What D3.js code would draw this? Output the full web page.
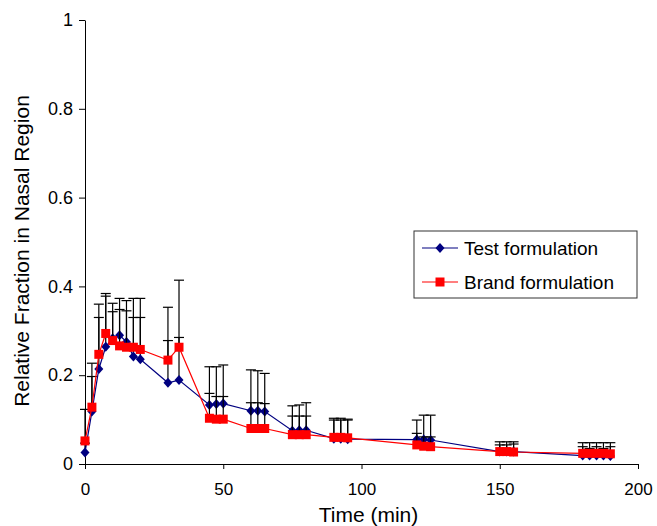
<!DOCTYPE html>
<html>
<head>
<meta charset="utf-8">
<script src="https://cdn.jsdelivr.net/npm/d3@7"></script>
<style>
  body { margin: 0; background: #fff; }
  svg text { font-family: "Liberation Sans", Arial, sans-serif; fill: #000; }
</style>
</head>
<body>
<div id="grafico"></div>
<script>
// ==============================
// DATOS
// ==============================

const tiempos = [0, 2.5, 5, 7.5, 10, 12.5, 15, 17.5, 20, 30, 34,
  45, 47.5, 50, 60, 62.5, 65, 75, 77.5, 80, 90, 92.5, 95,
  120, 122.5, 125, 150, 152.5, 155, 180, 182.5, 185, 187.5, 190];

const prueba = [0.026, 0.118, 0.214, 0.264, 0.283, 0.290, 0.275, 0.242, 0.236, 0.183, 0.189,
  0.133, 0.135, 0.136, 0.120, 0.120, 0.118, 0.075, 0.076, 0.076, 0.057, 0.057, 0.056,
  0.055, 0.055, 0.054, 0.028, 0.028, 0.028, 0.019, 0.019, 0.019, 0.019, 0.018];

const marca = [0.052, 0.128, 0.247, 0.294, 0.278, 0.266, 0.263, 0.263, 0.258, 0.234, 0.263,
  0.103, 0.101, 0.101, 0.080, 0.080, 0.080, 0.066, 0.066, 0.066, 0.060, 0.060, 0.059,
  0.043, 0.040, 0.039, 0.028, 0.028, 0.027, 0.024, 0.024, 0.024, 0.024, 0.023];

// extremo superior de cada barra de error
const pruebaSup = [0.047, 0.197, 0.330, 0.378, 0.343, 0.373, 0.368, 0.373, 0.373, 0.278, 0.285,
  0.219, 0.219, 0.223, 0.212, 0.210, 0.204, 0.131, 0.133, 0.138, 0.103, 0.103, 0.101,
  0.099, 0.110, 0.110, 0.050, 0.050, 0.050, 0.048, 0.048, 0.048, 0.048, 0.048];

const marcaSup = [0.123, 0.227, 0.360, 0.384, 0.362, 0.348, 0.345, 0.330, 0.330, 0.353, 0.414,
  0.159, 0.152, 0.152, 0.138, 0.138, 0.136, 0.108, 0.108, 0.108, 0.099, 0.099, 0.099,
  0.069, 0.061, 0.061, 0.043, 0.043, 0.045, 0.039, 0.035, 0.039, 0.035, 0.039];

const ticksX = [0, 50, 100, 150, 200];
const ticksY = [0, 0.2, 0.4, 0.6, 0.8, 1];
const series = ["Test formulation", "Brand formulation"];

// ==============================
// SVG Y ESCALAS
// ==============================

const ancho = 657, alto = 526;
const margen = { top: 20, right: 19, bottom: 62, left: 85 };

const svg = d3.select("#grafico").append("svg")
  .attr("width", ancho).attr("height", alto);

const x = d3.scaleLinear().domain([0, 200]).range([margen.left, ancho - margen.right]);
const y = d3.scaleLinear().domain([0, 1]).range([alto - margen.bottom, margen.top]);

// Ejes
const ejeX = svg.append("g")
  .attr("transform", `translate(0,${y(0)})`)
  .call(d3.axisBottom(x).tickValues(ticksX).tickSize(5).tickSizeOuter(0).tickPadding(14));

const ejeY = svg.append("g")
  .attr("transform", `translate(${x(0)},0)`)
  .call(d3.axisLeft(y).tickValues(ticksY).tickSize(6).tickSizeOuter(0).tickPadding(6)
    .tickFormat(d => d3.format("")(d)));

[ejeX, ejeY].forEach(e => {
  e.selectAll("path, line").attr("stroke", "#000").attr("stroke-width", 1);
});
ejeX.selectAll("text").style("font-size", "17px").attr("fill", "#000");
ejeY.selectAll("text").style("font-size", "18px").attr("fill", "#000");

// Títulos de los ejes
svg.append("text")
  .attr("x", (x(0) + x(200)) / 2 + 7).attr("y", 522)
  .attr("text-anchor", "middle").style("font-size", "21px")
  .text("Time (min)");

svg.append("text")
  .attr("transform", "translate(22,251) rotate(-90)")
  .attr("text-anchor", "middle").attr("dy", "0.35em").style("font-size", "21px")
  .text("Relative Fraction in Nasal Region");

// ==============================
// SERIES
// ==============================

function dibujarSerie(valores, superiores, color, marcador) {
  const datos = tiempos.map((t, i) => ({ t, v: valores[i], s: superiores[i] }));
  const g = svg.append("g");

  // barras de error (solo hacia arriba)
  g.selectAll("line.err").data(datos).join("line")
    .attr("x1", d => x(d.t)).attr("x2", d => x(d.t))
    .attr("y1", d => y(d.v)).attr("y2", d => y(d.s))
    .attr("stroke", "#000").attr("stroke-width", 1.2);
  g.selectAll("line.cap").data(datos).join("line")
    .attr("x1", d => x(d.t) - 5).attr("x2", d => x(d.t) + 5)
    .attr("y1", d => y(d.s)).attr("y2", d => y(d.s))
    .attr("stroke", "#000").attr("stroke-width", 1.2);

  g.append("path").datum(datos)
    .attr("d", d3.line().x(d => x(d.t)).y(d => y(d.v)))
    .attr("fill", "none").attr("stroke", color).attr("stroke-width", 1.2);

  g.selectAll("path.m").data(datos).join("path")
    .attr("d", marcador)
    .attr("transform", d => `translate(${x(d.t)},${y(d.v)})`)
    .attr("fill", color);
}

const rombo = "M0,-5L4.5,0L0,5L-4.5,0Z";
const cuadro = "M-4.5,-4.5H4.5V4.5H-4.5Z";

dibujarSerie(prueba, pruebaSup, "#000080", rombo);
dibujarSerie(marca, marcaSup, "#ff0000", cuadro);

// ==============================
// LEYENDA
// ==============================

const ley = svg.append("g").attr("transform", "translate(414,231)");
ley.append("rect").attr("width", 223).attr("height", 67)
  .attr("fill", "#fff").attr("stroke", "#333").attr("stroke-width", 1);

[["#000080", rombo], ["#ff0000", cuadro]].forEach(([color, marcador], i) => {
  const fila = ley.append("g").attr("transform", `translate(0,${17 + i * 34})`);
  fila.append("line").attr("x1", 8).attr("x2", 44)
    .attr("stroke", color).attr("stroke-width", 1.2);
  fila.append("path").attr("d", marcador).attr("transform", "translate(26,0)").attr("fill", color);
  fila.append("text").attr("x", 50).attr("dy", "0.35em").style("font-size", "19px")
    .text(series[i]);
});
</script>
</body>
</html>
